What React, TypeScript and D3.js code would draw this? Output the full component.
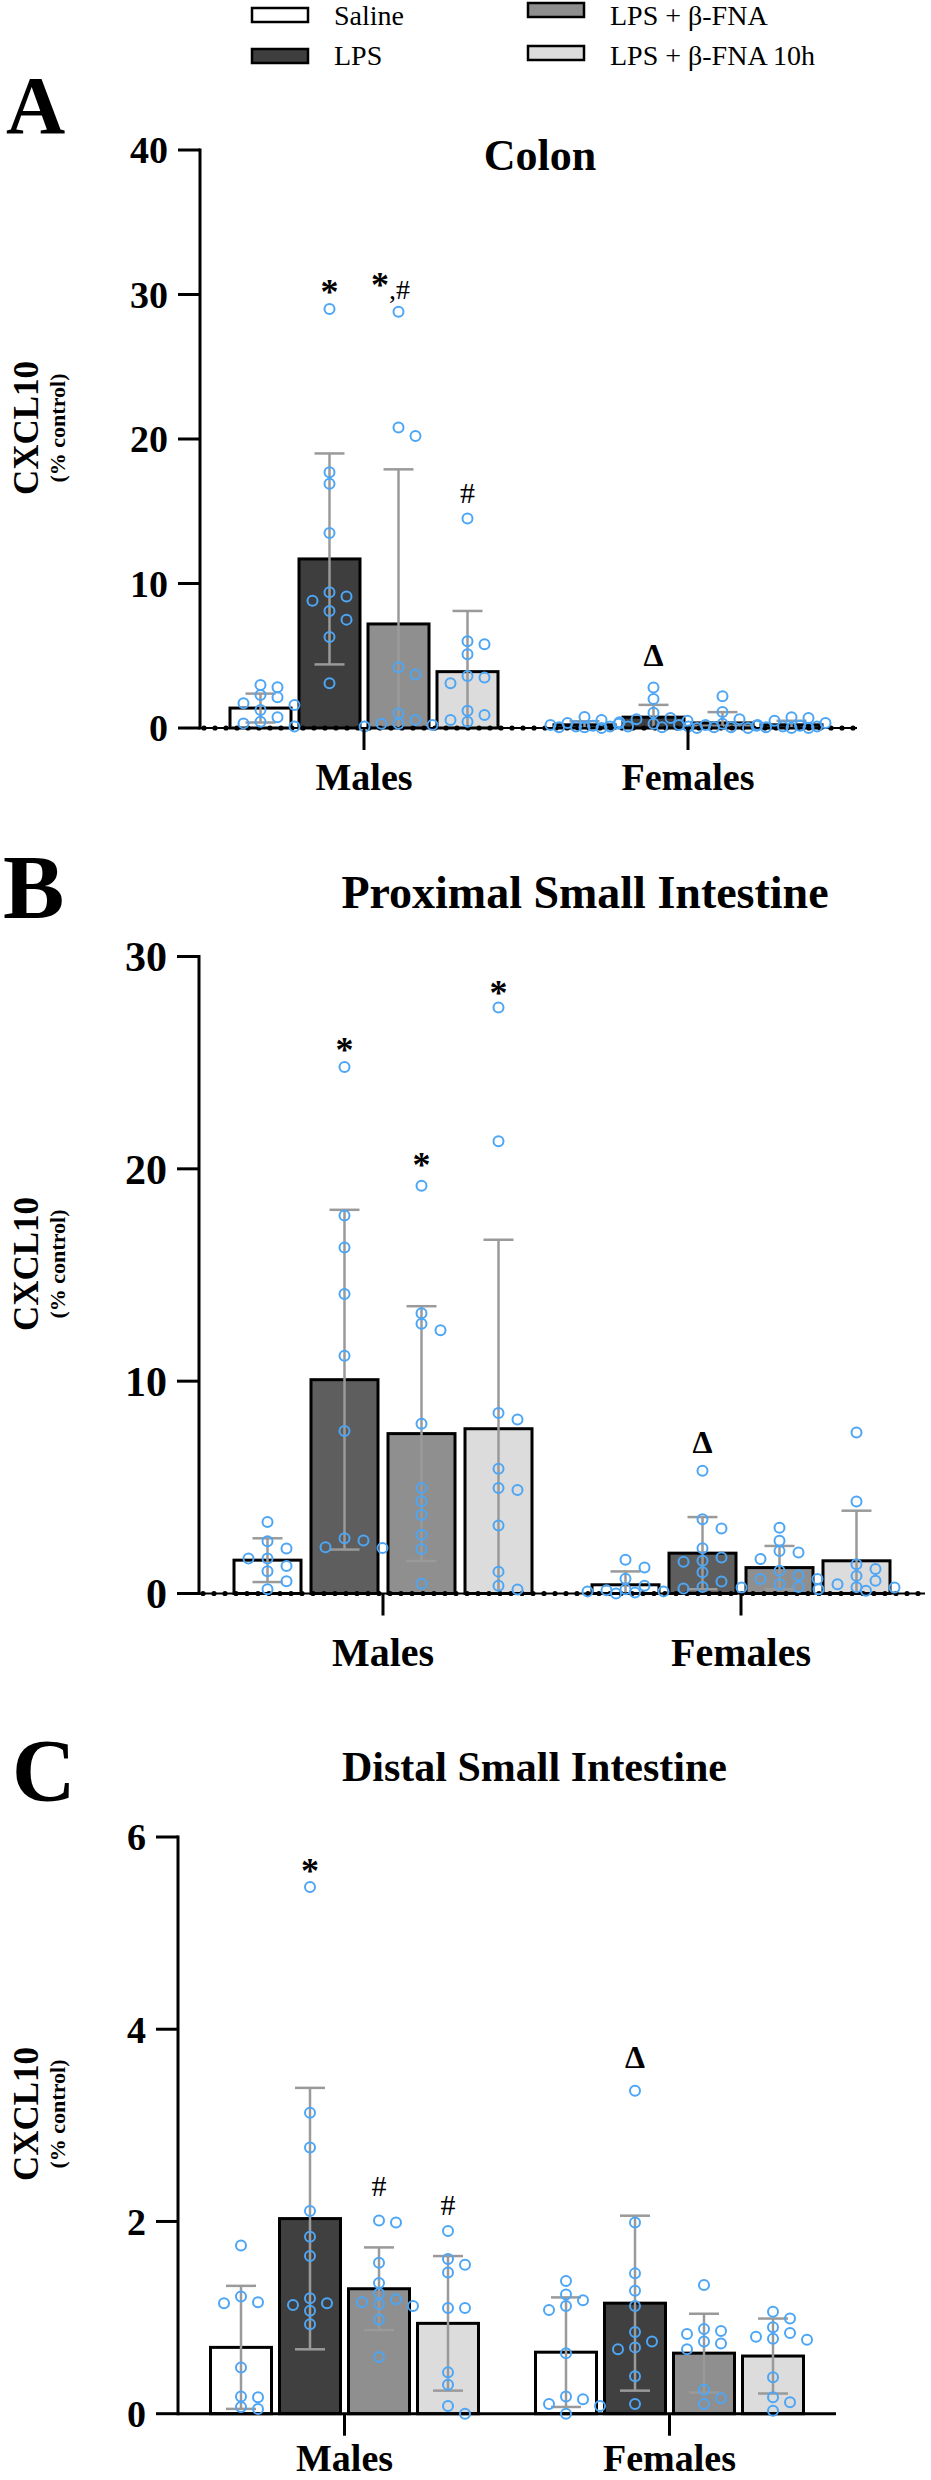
import React from "react";
import * as d3 from "d3";

// ---------- data ----------
const groups = ["Saline", "LPS", "LPS + β-FNA", "LPS + β-FNA 10h"];
const sexes = ["Males", "Females"];
const groupFills = ["#ffffff", "#3e3e3e", "#8f8f8f", "#dcdcdc"];

// Panel A – Colon
const colonTicks = [0, 10, 20, 30, 40];
const colonMaleMeans = [1.38, 11.7, 7.2, 3.9];
const colonMaleSD = [1.0, 7.3, 10.7, 4.2];
const colonFemaleMeans = [0.22, 0.75, 0.35, 0.22];
const colonFemaleSD = [0.25, 0.85, 0.75, 0.28];
const colonMalePoints = [
  [2.98, 2.82, 2.28, 2.12, 1.71, 1.59, 1.25, 0.74, 0.44, 0.32, 0.1],
  [29.0, 17.7, 16.9, 13.5, 9.4, 9.1, 8.8, 8.1, 7.5, 6.3, 3.1],
  [28.8, 20.8, 20.2, 4.2, 3.7, 1.0, 0.55, 0.3, 0.3, 0.2, 0.1],
  [14.5, 6.0, 5.8, 5.1, 3.6, 3.5, 3.1, 1.2, 0.9, 0.55, 0.44],
];
const colonFemalePoints = [
  [0.76, 0.55, 0.35, 0.3, 0.2, 0.15, 0.1, 0.1, 0.05, 0.05, 0.0],
  [2.8, 2.0, 1.06, 0.7, 0.6, 0.5, 0.4, 0.3, 0.2, 0.1, 0.05],
  [2.2, 1.1, 0.6, 0.3, 0.2, 0.15, 0.1, 0.05, 0.05, 0.0, 0.0],
  [0.75, 0.7, 0.5, 0.35, 0.2, 0.15, 0.1, 0.1, 0.05, 0.0, 0.0],
];
const colonMarks = [
  { sex: 0, group: 1, text: "*", value: 29.9 },
  { sex: 0, group: 2, text: "*", sub: ",#", value: 30.4 },
  { sex: 0, group: 3, text: "#", value: 15.6 },
  { sex: 1, group: 1, text: "Δ", value: 4.3 },
];

// Panel B – Proximal small intestine
const proxTicks = [0, 10, 20, 30];
const proxMaleMeans = [1.57, 10.07, 7.53, 7.76];
const proxMaleSD = [1.03, 8.0, 6.0, 8.9];
const proxFemaleMeans = [0.41, 1.9, 1.22, 1.54];
const proxFemaleSD = [0.63, 1.7, 1.02, 2.36];
const proxMalePoints = [
  [3.37, 2.46, 2.12, 1.65, 1.65, 1.3, 1.05, 0.58, 0.2],
  [24.8, 17.8, 16.3, 14.1, 11.2, 7.65, 2.6, 2.5, 2.18, 2.14],
  [19.2, 13.2, 12.7, 12.4, 8.0, 4.97, 4.34, 3.7, 2.77, 2.1, 0.46],
  [27.6, 21.3, 8.5, 8.2, 5.87, 4.97, 4.87, 3.2, 1.03, 0.36, 0.19],
];
const proxFemalePoints = [
  [1.59, 1.22, 0.7, 0.36, 0.2, 0.15, 0.1, 0.1, 0.05, 0.0],
  [5.78, 3.5, 3.06, 2.13, 1.7, 1.54, 1.5, 1.0, 0.57, 0.31, 0.24],
  [3.1, 2.48, 2.0, 1.93, 1.62, 1.07, 0.86, 0.68, 0.68, 0.44, 0.31, 0.28],
  [7.58, 4.33, 1.38, 1.15, 0.83, 0.6, 0.44, 0.3, 0.28, 0.2, 0.13],
];
const proxMarks = [
  { sex: 0, group: 1, text: "*", value: 25.4 },
  { sex: 0, group: 2, text: "*", value: 20.0 },
  { sex: 0, group: 3, text: "*", value: 28.1 },
  { sex: 1, group: 1, text: "Δ", value: 6.6 },
];

// Panel C – Distal small intestine
const distTicks = [0, 2, 4, 6];
const distMaleMeans = [0.69, 2.03, 1.3, 0.94];
const distMaleSD = [0.64, 1.36, 0.43, 0.7];
const distFemaleMeans = [0.64, 1.15, 0.63, 0.6];
const distFemaleSD = [0.57, 0.91, 0.41, 0.39];
const distMalePoints = [
  [1.75, 1.22, 1.16, 1.15, 0.48, 0.18, 0.17, 0.07, 0.05],
  [5.48, 3.13, 2.77, 2.11, 1.84, 1.64, 1.2, 1.15, 1.13, 1.07, 0.93],
  [2.01, 1.99, 1.57, 1.36, 1.25, 1.19, 1.16, 1.14, 1.12, 0.98, 0.59],
  [1.9, 1.61, 1.55, 1.47, 1.1, 1.1, 0.43, 0.3, 0.08, 0.0],
];
const distFemalePoints = [
  [1.38, 1.24, 1.18, 1.12, 1.08, 0.63, 0.18, 0.15, 0.1, 0.08, 0.0],
  [3.36, 1.99, 1.46, 1.28, 1.12, 0.85, 0.75, 0.69, 0.67, 0.39, 0.1],
  [1.34, 0.88, 0.86, 0.83, 0.75, 0.73, 0.67, 0.25, 0.16, 0.1],
  [1.06, 0.99, 0.9, 0.84, 0.8, 0.78, 0.77, 0.38, 0.17, 0.12, 0.03],
];
const distMarks = [
  { sex: 0, group: 1, text: "*", value: 5.6 },
  { sex: 0, group: 2, text: "#", value: 2.26 },
  { sex: 0, group: 3, text: "#", value: 2.07 },
  { sex: 1, group: 1, text: "Δ", value: 3.6 },
];

// ---------- layout ----------
const FONT = "'Liberation Serif', 'Times New Roman', Times, serif";
const POINT_COLOR = "#4da6f5";
const ERR_COLOR = "#9a9a9a";

const panels = [
  {
    letter: "A", letterX: 6, letterY: 133, letterSize: 82,
    title: "Colon", titleX: 540, titleY: 170, titleSize: 44, titleAnchor: "middle",
    axisX: 200, y0: 728, yTop: 150, ticks: colonTicks,
    centers: [364, 688], barW: 61, step: 69, lineEnd: 857, dotted: true,
    catY: 790, catSize: 38, tickSize: 38, ylabelY: 428, swarmStep: 17,
    lpsFill: "#3e3e3e",
    means: [colonMaleMeans, colonFemaleMeans], sds: [colonMaleSD, colonFemaleSD],
    points: [colonMalePoints, colonFemalePoints], marks: colonMarks,
  },
  {
    letter: "B", letterX: 3, letterY: 918, letterSize: 92,
    title: "Proximal Small Intestine", titleX: 585, titleY: 908, titleSize: 46, titleAnchor: "middle",
    axisX: 199, y0: 1593.5, yTop: 956.5, ticks: proxTicks,
    centers: [383, 741], barW: 67, step: 77, lineEnd: 925, dotted: true,
    catY: 1666, catSize: 40, tickSize: 42, ylabelY: 1264, swarmStep: 19,
    lpsFill: "#5e5e5e",
    means: [proxMaleMeans, proxFemaleMeans], sds: [proxMaleSD, proxFemaleSD],
    points: [proxMalePoints, proxFemalePoints], marks: proxMarks,
  },
  {
    letter: "C", letterX: 12, letterY: 1800, letterSize: 88,
    title: "Distal Small Intestine", titleX: 342, titleY: 1781, titleSize: 42, titleAnchor: "start",
    axisX: 178, y0: 2413.7, yTop: 1837, ticks: distTicks,
    centers: [344.5, 669.5], barW: 61, step: 69, lineEnd: 836, dotted: false,
    catY: 2471, catSize: 38, tickSize: 38, ylabelY: 2114, swarmStep: 17,
    lpsFill: "#404040",
    means: [distMaleMeans, distFemaleMeans], sds: [distMaleSD, distFemaleSD],
    points: [distMalePoints, distFemalePoints], marks: distMarks,
  },
];

// column-scatter layout: spread overlapping points sideways, within the bar
function swarm(values: number[], y: (v: number) => number, cx: number, step: number, minDist: number, maxOff: number) {
  const placed: { x: number; y: number }[] = [];
  const sorted = values.map((v) => ({ v, y: y(v) })).sort((a, b) => a.y - b.y);
  const candidates: number[] = [0];
  for (let k = 1; k * step <= maxOff + 0.1; k++) candidates.push(k * step, -k * step);
  for (const p of sorted) {
    let best = cx;
    let bestD = -1;
    let done = false;
    for (const off of candidates) {
      const x = cx + off;
      const d = placed.length ? Math.min(...placed.map((q) => Math.hypot(q.x - x, q.y - p.y))) : Infinity;
      if (d >= minDist) {
        placed.push({ x, y: p.y });
        done = true;
        break;
      }
      if (d > bestD) { bestD = d; best = x; }
    }
    if (!done) {
      // fall back to half-steps to reduce overlap
      for (let k = 0; k < candidates.length; k++) {
        const x = cx + candidates[k] + step / 2;
        if (Math.abs(x - cx) > maxOff + 0.1) continue;
        const d = Math.min(...placed.map((q) => Math.hypot(q.x - x, q.y - p.y)));
        if (d > bestD) { bestD = d; best = x; }
      }
      placed.push({ x: best, y: p.y });
    }
  }
  return placed;
}

function Panel({ p }: { p: any }) {
  const yMax = p.ticks[p.ticks.length - 1];
  const y = d3.scaleLinear().domain([0, yMax]).range([p.y0, p.yTop]);
  const xBand = (sex: number, g: number) => p.centers[sex] + (g - 1.5) * p.step;
  const fills = groupFills.map((f, i) => (i === 1 ? p.lpsFill : f));
  const tickLen = 22;
  const dots = d3.range(p.axisX + 4, p.lineEnd, 11);
  const maxOff = p.swarmStep * 2;

  return (
    <g fontFamily={FONT}>
      <text x={p.letterX} y={p.letterY} fontSize={p.letterSize} fontWeight="bold">{p.letter}</text>
      <text x={p.titleX} y={p.titleY} fontSize={p.titleSize} fontWeight="bold" textAnchor={p.titleAnchor}>{p.title}</text>

      {/* y label */}
      <text transform={`translate(38,${p.ylabelY}) rotate(-90)`} fontSize={35} fontWeight="bold" textAnchor="middle">CXCL10</text>
      <text transform={`translate(65,${p.ylabelY}) rotate(-90)`} fontSize={22} fontWeight="bold" textAnchor="middle">(% control)</text>

      {/* bars */}
      {p.means.map((ms: number[], sex: number) =>
        ms.map((m: number, g: number) => (
          <rect key={`b${sex}${g}`} x={xBand(sex, g) - p.barW / 2} y={y(m)} width={p.barW} height={p.y0 - y(m)}
            fill={fills[g]} stroke="#000" strokeWidth={3} />
        ))
      )}

      {/* error bars */}
      {p.means.map((ms: number[], sex: number) =>
        ms.map((m: number, g: number) => {
          const sd = p.sds[sex][g];
          const cx = xBand(sex, g);
          const lo = m - sd;
          return (
            <g key={`e${sex}${g}`} stroke={ERR_COLOR} strokeWidth={2.5}>
              <line x1={cx} x2={cx} y1={y(m + sd)} y2={y(Math.max(lo, 0))} />
              <line x1={cx - 15} x2={cx + 15} y1={y(m + sd)} y2={y(m + sd)} />
              {lo > 0.02 && <line x1={cx - 15} x2={cx + 15} y1={y(lo)} y2={y(lo)} />}
            </g>
          );
        })
      )}

      {/* baseline */}
      <line x1={p.axisX} x2={p.lineEnd} y1={p.y0} y2={p.y0} stroke="#000" strokeWidth={p.dotted ? 2 : 3} />
      {p.dotted && dots.map((dx: number, i: number) => (
        <circle key={`d${i}`} cx={dx} cy={p.y0} r={2.6} fill="#000" />
      ))}

      {/* points */}
      {p.points.map((grp: number[][], sex: number) =>
        grp.map((vals: number[], g: number) =>
          swarm(vals, y, xBand(sex, g), p.swarmStep, 10, maxOff).map((pt, i) => (
            <circle key={`p${sex}${g}${i}`} cx={pt.x} cy={pt.y} r={5} fill="none" stroke={POINT_COLOR} strokeWidth={2} />
          ))
        )
      )}

      {/* y axis */}
      <line x1={p.axisX} x2={p.axisX} y1={p.y0 + 1.5} y2={p.yTop - 1.5} stroke="#000" strokeWidth={3} />
      {p.ticks.map((t: number) => (
        <g key={`t${t}`}>
          <line x1={p.axisX - tickLen} x2={p.axisX} y1={y(t)} y2={y(t)} stroke="#000" strokeWidth={3} />
          <text x={p.axisX - tickLen - 10} y={y(t)} dy="0.35em" fontSize={p.tickSize} fontWeight="bold" textAnchor="end">{t}</text>
        </g>
      ))}

      {/* category ticks & labels */}
      {sexes.map((s, i) => (
        <g key={s}>
          <line x1={p.centers[i]} x2={p.centers[i]} y1={p.y0} y2={p.y0 + 22} stroke="#000" strokeWidth={3} />
          <text x={p.centers[i]} y={p.catY} fontSize={p.catSize} fontWeight="bold" textAnchor="middle">{s}</text>
        </g>
      ))}

      {/* significance marks */}
      {p.marks.map((mk: any, i: number) => {
        const cx = xBand(mk.sex, mk.group);
        const by = y(mk.value);
        if (mk.text === "*")
          return (
            <text key={`m${i}`} x={mk.sub ? cx - 8 : cx} y={by + 8} fontSize={36} fontWeight="bold" textAnchor="middle">
              *{mk.sub && <tspan fontSize={28} fontWeight="normal" dy={2}>{mk.sub}</tspan>}
            </text>
          );
        return (
          <text key={`m${i}`} x={cx} y={by} fontSize={mk.text === "Δ" ? 32 : 30} fontWeight={mk.text === "Δ" ? "bold" : "normal"} textAnchor="middle">{mk.text}</text>
        );
      })}
    </g>
  );
}

function Legend() {
  const items = [
    { g: 0, bx: 252, by: 8, tx: 334, ty: 25 },
    { g: 1, bx: 252, by: 49, tx: 334, ty: 65 },
    { g: 2, bx: 528, by: 3, tx: 610, ty: 25 },
    { g: 3, bx: 528, by: 46, tx: 610, ty: 65 },
  ];
  return (
    <g fontFamily={FONT}>
      {items.map((it) => (
        <g key={it.g}>
          <rect x={it.bx} y={it.by} width={56} height={14} fill={groupFills[it.g]} stroke="#000" strokeWidth={2.5} />
          <text x={it.tx} y={it.ty} fontSize={28}>{groups[it.g]}</text>
        </g>
      ))}
    </g>
  );
}

export default function App() {
  return (
    <svg width={931} height={2480} viewBox="0 0 931 2480"
      style={{ position: "absolute", left: 0, top: 0, background: "#fff" }}>
      <rect width={931} height={2480} fill="#fff" />
      <Legend />
      {panels.map((p) => <Panel key={p.letter} p={p} />)}
    </svg>
  );
}
